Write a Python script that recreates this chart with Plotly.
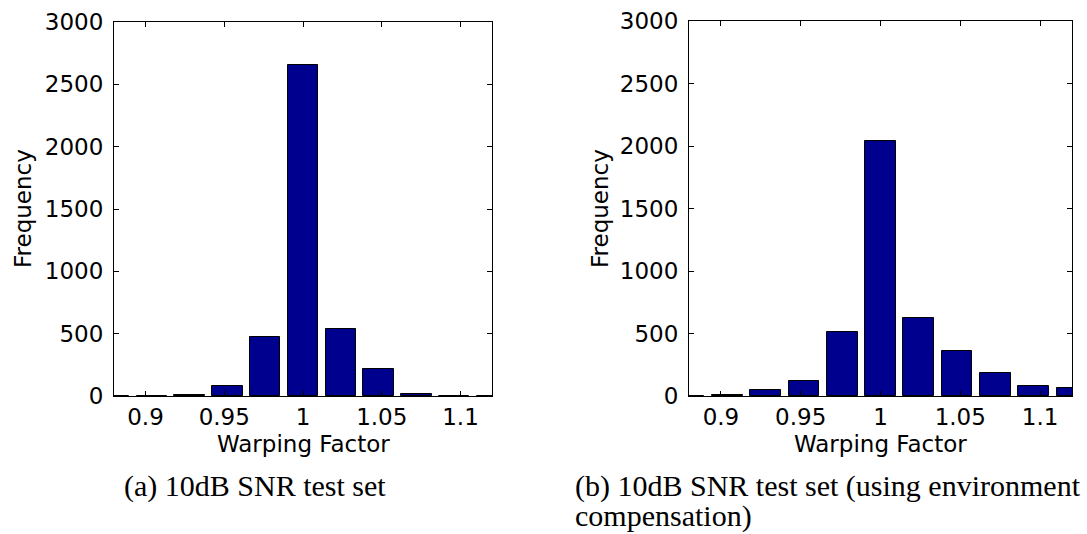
import plotly.graph_objects as go

# Data (bin centers of warping-factor histogram)
warp_factors = [0.88, 0.904, 0.928, 0.952, 0.976, 1.0, 1.024, 1.048, 1.072, 1.096, 1.12]
freq_a = [0, 2, 10, 80, 475, 2655, 535, 219, 16, 3, 0]
freq_b = [2, 5, 45, 118, 510, 2038, 625, 358, 183, 78, 62]

x_tick_vals = [0.9, 0.95, 1.0, 1.05, 1.1]
x_tick_text = ["0.9", "0.95", "1", "1.05", "1.1"]
y_tick_vals = [0, 500, 1000, 1500, 2000, 2500, 3000]
y_tick_text = ["0", "500", "1000", "1500", "2000", "2500", "3000"]

caption_a = "(a) 10dB SNR test set"
caption_b1 = "(b) 10dB SNR test set (using environment"
caption_b2 = "compensation)"

W, H = 1087, 534
BAR_COLOR = "#00008F"
SANS = "DejaVu Sans, Arial, sans-serif"
SERIF = "Liberation Serif, Times New Roman, serif"
FS = 23

fig = go.Figure()
bar_width = 0.8 * 0.024
for i, vals in enumerate([freq_a, freq_b]):
    fig.add_trace(go.Bar(
        x=warp_factors, y=vals, width=bar_width,
        marker=dict(color=BAR_COLOR, line=dict(color="black", width=1)),
        xaxis="x" if i == 0 else "x2", yaxis="y" if i == 0 else "y2",
        showlegend=False,
    ))

def px(x):
    return x / W

def py(y):
    return 1 - y / H

axis_common = dict(
    showline=True, linecolor="black", linewidth=1, mirror="ticks",
    ticks="inside", ticklen=5, tickcolor="black", tickwidth=1,
    showgrid=False, zeroline=False, automargin=False,
    tickfont=dict(family=SANS, size=FS, color="black"),
)

left_dom = [px(114), px(492)]
right_dom = [px(689), px(1072)]
y_dom_a = [py(396), py(22)]
y_dom_b = [py(396), py(21)]

fig.update_layout(
    template="none",
    width=W, height=H, autosize=False,
    margin=dict(l=0, r=0, t=0, b=0, pad=0, autoexpand=False),
    paper_bgcolor="white", plot_bgcolor="white",
    showlegend=False,
    bargap=0,
    xaxis=dict(domain=left_dom, range=[0.88, 1.12], anchor="y",
               tickvals=x_tick_vals, ticktext=x_tick_text, **axis_common),
    yaxis=dict(domain=y_dom_a, range=[0, 3000], anchor="x", ticklabelstandoff=5,
               tickvals=y_tick_vals, ticktext=y_tick_text, **axis_common),
    xaxis2=dict(domain=right_dom, range=[0.88, 1.12], anchor="y2",
                tickvals=x_tick_vals, ticktext=x_tick_text, **axis_common),
    yaxis2=dict(domain=y_dom_b, range=[0, 3000], anchor="x2", ticklabelstandoff=5,
                tickvals=y_tick_vals, ticktext=y_tick_text, **axis_common),
)

annotations = []
for cx in [(114 + 492) / 2, (689 + 1072) / 2]:
    annotations.append(dict(text="Warping Factor", x=px(cx), y=py(444),
                            xref="paper", yref="paper", showarrow=False,
                            xanchor="center", yanchor="middle",
                            font=dict(family=SANS, size=FS, color="black")))
for cx, cy in [(23, 209), (600, 209)]:
    annotations.append(dict(text="Frequency", x=px(cx), y=py(cy),
                            xref="paper", yref="paper", showarrow=False,
                            xanchor="center", yanchor="middle", textangle=-90,
                            font=dict(family=SANS, size=FS, color="black")))
cap_font = dict(family=SERIF, size=30, color="black")
annotations.append(dict(text=caption_a, x=px(122), y=py(486), xref="paper", yref="paper",
                        showarrow=False, xanchor="left", yanchor="middle", font=cap_font))
annotations.append(dict(text=caption_b1, x=px(573), y=py(486), xref="paper", yref="paper",
                        showarrow=False, xanchor="left", yanchor="middle", font=cap_font))
annotations.append(dict(text=caption_b2, x=px(573), y=py(516), xref="paper", yref="paper",
                        showarrow=False, xanchor="left", yanchor="middle", font=cap_font))
fig.update_layout(annotations=annotations)

post_js = (
    "document.documentElement.style.margin='0';"
    "document.documentElement.style.overflow='hidden';"
    "document.body.style.margin='0';"
    "document.body.style.overflow='hidden';"
    "var gd=document.getElementById('{plot_id}');"
    "gd.style.position='fixed';gd.style.left='0px';gd.style.top='0px';"
)

fig.write_html("out.html", config={"displayModeBar": False, "responsive": False},
               post_script=post_js)
